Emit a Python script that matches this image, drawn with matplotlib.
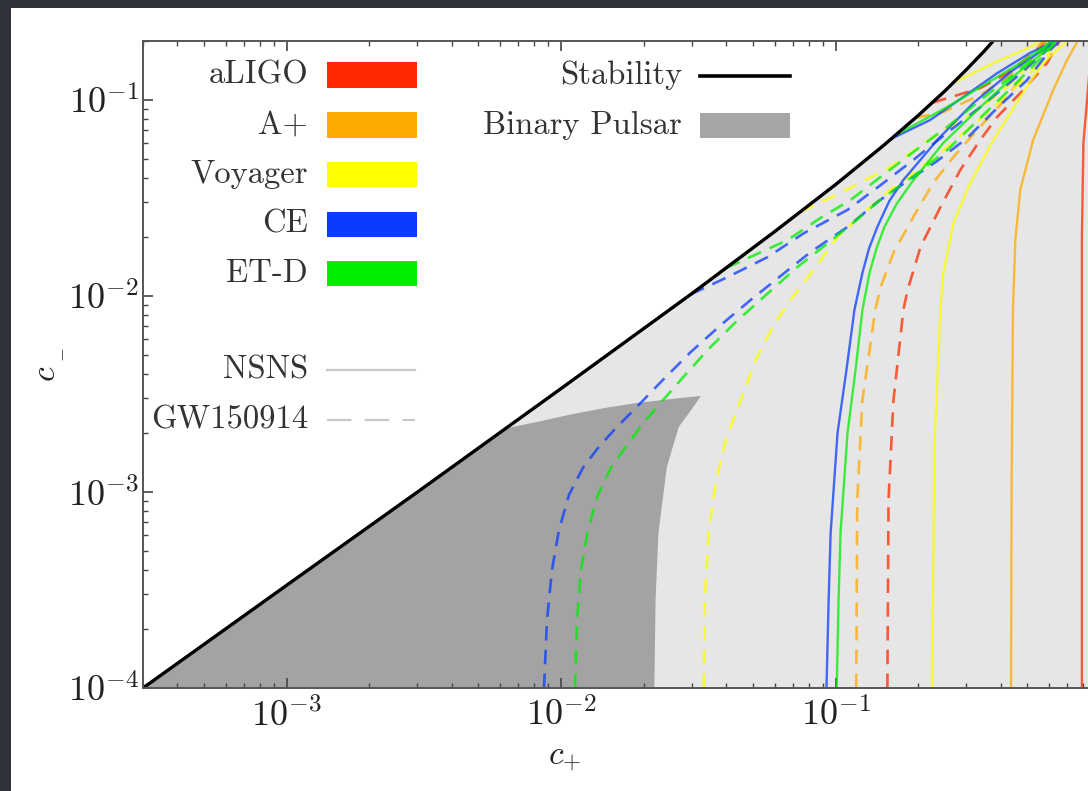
import matplotlib
matplotlib.use("Agg")
import matplotlib.pyplot as plt
from matplotlib.patches import Rectangle
from matplotlib.lines import Line2D
from matplotlib.ticker import FixedLocator, LogLocator, NullFormatter

plt.rcParams['mathtext.fontset'] = 'cm'
plt.rcParams['font.family'] = ['cmr10', 'DejaVu Serif']

# ---- data (c+, c-) ----
stab_cp = [3.0e-4, 1e-3, 3e-3, 1e-2, 3e-2, 0.06, 0.1, 0.15, 0.2, 0.25, 0.3, 0.35, 0.375]
stab_cm = [1.0e-4, 3.34e-4, 1.0e-3, 3.37e-3, 0.0103, 0.0213, 0.037, 0.0588, 0.0833, 0.111, 0.143, 0.179, 0.2]

pulsar_cp = [3.0e-4, 1e-3, 3e-3, 6.3e-3, 8.46e-3, 0.01105, 0.01458, 0.01905, 0.0251, 0.0323, 0.0302,
             0.02686, 0.02429, 0.02264, 0.0221, 0.02188]
pulsar_cm = [1.0e-4, 3.34e-4, 1.0e-3, 2.11e-3, 2.30e-3, 2.50e-3, 2.69e-3, 2.85e-3, 2.98e-3, 3.09e-3, 2.69e-3,
             2.15e-3, 1.34e-3, 6.18e-4, 2.81e-4, 1.0e-4]

detectors = ['aLIGO', 'A+', 'Voyager', 'CE', 'ET-D']
det_colors = ['#ff2a00', '#ffaa00', '#ffff00', '#0a3cff', '#00ee00']

# NSNS (solid) curves: lower branch and upper branch
nsns_lo_cp = {
    'aLIGO': [0.79, 0.79, 0.80, 0.825, 0.86],
    'A+': [0.436, 0.438, 0.443, 0.452, 0.471, 0.525, 0.621, 0.698, 0.759],
    'Voyager': [0.225, 0.229, 0.241, 0.247, 0.269, 0.310, 0.376, 0.471, 0.570, 0.674, 0.70],
    'CE': [0.0927, 0.0944, 0.096, 0.1017, 0.1096, 0.1172, 0.1253, 0.1325, 0.142, 0.157, 0.1767, 0.235, 0.318,
           0.443, 0.590, 0.621],
    'ET-D': [0.101, 0.1026, 0.1043, 0.1106, 0.1183, 0.1253, 0.133, 0.141, 0.1507, 0.167, 0.189, 0.247, 0.337,
             0.459, 0.605, 0.631],
}
nsns_lo_cm = {
    'aLIGO': [1e-4, 0.02, 0.06, 0.1, 0.2],
    'A+': [1e-4, 1e-3, 8.49e-3, 0.0193, 0.0348, 0.0626, 0.1125, 0.160, 0.198],
    'Voyager': [1e-4, 1.64e-3, 8.49e-3, 0.0131, 0.0236, 0.0378, 0.0626, 0.1036, 0.1545, 0.191, 0.2],
    'CE': [1e-4, 2.81e-4, 6.18e-4, 2.0e-3, 4.19e-3, 8.49e-3, 0.0131, 0.0175, 0.0225, 0.0305, 0.0391, 0.0626,
           0.0966, 0.142, 0.186, 0.198],
    'ET-D': [1e-4, 2.81e-4, 6.18e-4, 2.0e-3, 4.19e-3, 8.49e-3, 0.0131, 0.0175, 0.0225, 0.0295, 0.0378, 0.0604,
             0.092, 0.137, 0.186, 0.198],
}
nsns_up_cp = {
    'Voyager': [0.268, 0.376, 0.512, 0.55],
    'CE': [0.160, 0.221, 0.292, 0.388, 0.512, 0.590, 0.62],
    'ET-D': [0.165, 0.255, 0.357, 0.471, 0.590, 0.62],
}
nsns_up_cm = {
    'Voyager': [0.122, 0.1545, 0.186, 0.2],
    'CE': [0.0635, 0.079, 0.1036, 0.137, 0.174, 0.191, 0.2],
    'ET-D': [0.066, 0.092, 0.122, 0.1545, 0.191, 0.2],
}

# GW150914 (dashed) curves
gw_lo_cp = {
    'aLIGO': [0.1545, 0.156, 0.1626, 0.1767, 0.183, 0.204, 0.241, 0.285, 0.337, 0.388, 0.483, 0.590, 0.655],
    'A+': [0.119, 0.120, 0.1253, 0.1396, 0.146, 0.1626, 0.192, 0.227, 0.269, 0.328, 0.398, 0.471, 0.556, 0.58],
    'Voyager': [0.0331, 0.0334, 0.0345, 0.0366, 0.0398, 0.0451, 0.0512, 0.0595, 0.0686, 0.0832, 0.1017,
                0.1264, 0.1585, 0.1986, 0.241, 0.302, 0.376, 0.471, 0.570, 0.631, 0.65],
    'CE': [8.67e-3, 8.89e-3, 9.27e-3, 9.83e-3, 0.01069, 0.01202, 0.01374, 0.01585, 0.01842, 0.0231, 0.0297,
           0.0382, 0.0491, 0.0631, 0.0811, 0.1105, 0.1421, 0.1827, 0.2349, 0.302, 0.388, 0.499, 0.605, 0.65],
    'ET-D': [0.01124, 0.01143, 0.01182, 0.01253, 0.01363, 0.0152, 0.01723, 0.0197, 0.0227, 0.0273, 0.0342,
             0.0433, 0.0557, 0.0727, 0.0919, 0.1134, 0.1457, 0.1921, 0.2554, 0.3367, 0.444, 0.58, 0.631],
}
gw_lo_cm = {
    'aLIGO': [1e-4, 9.1e-4, 2.94e-3, 8.49e-3, 0.0107, 0.0178, 0.0284, 0.044, 0.0626, 0.0819, 0.1125, 0.1545, 0.2],
    'A+': [1e-4, 9.1e-4, 2.94e-3, 8.49e-3, 0.0111, 0.0166, 0.0253, 0.0378, 0.0512, 0.0703, 0.0943, 0.1265, 0.191, 0.2],
    'Voyager': [1e-4, 2.81e-4, 6.18e-4, 1.11e-3, 1.84e-3, 2.94e-3, 4.71e-3, 7.11e-3, 9.55e-3, 0.0136, 0.020,
                0.0265, 0.0348, 0.044, 0.0537, 0.0703, 0.092, 0.122, 0.160, 0.191, 0.2],
    'CE': [1e-4, 2.22e-4, 4.0e-4, 6.4e-4, 9.66e-4, 1.33e-3, 1.70e-3, 2.12e-3, 2.62e-3, 3.64e-3, 5.18e-3,
           7.11e-3, 9.55e-3, 0.01265, 0.01675, 0.0225, 0.0302, 0.0386, 0.0489, 0.064, 0.091, 0.1265, 0.180, 0.198],
    'ET-D': [1e-4, 2.22e-4, 4.0e-4, 6.4e-4, 9.66e-4, 1.33e-3, 1.70e-3, 2.20e-3, 2.78e-3, 3.73e-3, 5.30e-3,
             7.36e-3, 0.0101, 0.01406, 0.0182, 0.0230, 0.0309, 0.0409, 0.0556, 0.081, 0.1178, 0.172, 0.198],
}
gw_up_cp = {
    'aLIGO': [0.225, 0.337, 0.422, 0.533, 0.58],
    'A+': [0.195, 0.247, 0.337, 0.433, 0.533, 0.57],
    'Voyager': [0.0747, 0.1043, 0.1585, 0.227, 0.310, 0.398, 0.512, 0.605, 0.63],
    'CE': [0.0297, 0.0405, 0.0566, 0.0766, 0.1106, 0.146, 0.192, 0.255, 0.337, 0.443, 0.590, 0.631],
    'ET-D': [0.040, 0.0669, 0.0881, 0.1135, 0.146, 0.192, 0.255, 0.337, 0.443, 0.58, 0.60],
}
gw_up_cm = {
    'aLIGO': [0.0968, 0.115, 0.137, 0.176, 0.198],
    'A+': [0.081, 0.0868, 0.106, 0.134, 0.179, 0.2],
    'Voyager': [0.0269, 0.0336, 0.0455, 0.0647, 0.0838, 0.1087, 0.151, 0.191, 0.2],
    'CE': [0.0102, 0.0125, 0.0158, 0.0209, 0.0275, 0.0368, 0.0494, 0.068, 0.092, 0.1265, 0.180, 0.198],
    'ET-D': [0.0139, 0.0193, 0.025, 0.0309, 0.0405, 0.0543, 0.0728, 0.1, 0.134, 0.186, 0.2],
}

xtick_vals = [1e-3, 1e-2, 1e-1, 1.0]
xtick_labels = [r'$10^{-3}$', r'$10^{-2}$', r'$10^{-1}$', '']
ytick_vals = [1e-4, 1e-3, 1e-2, 1e-1]
ytick_labels = [r'$10^{-4}$', r'$10^{-3}$', r'$10^{-2}$', r'$10^{-1}$']

# ---- figure ----
W, H = 1088, 791
fig = plt.figure(figsize=(W / 100, H / 100), dpi=100)
fig.patch.set_facecolor('#30343a')
fig.patches.append(Rectangle((11 / W, 0), 1, 1 - 8 / H, transform=fig.transFigure,
                             facecolor='white', edgecolor='none', zorder=-10))

def fx(x):
    return x / W

def fy(y):
    return 1 - y / H

ax = fig.add_axes([fx(143), fy(688), (1110 - 143) / W, (688 - 41) / H])
ax.set_xscale('log')
ax.set_yscale('log')
ax.set_xlim(3.0e-4, 1.0)
ax.set_ylim(1e-4, 0.2)
ax.set_facecolor('white')

# allowed region (light) and binary pulsar region (dark)
ax.fill_between(stab_cp + [1.0], 1e-5, stab_cm + [0.2], color='#e6e6e6', lw=0, zorder=0)
ax.fill(pulsar_cp, pulsar_cm, color='#a3a3a3', lw=0, zorder=1)

line_alpha = 0.75
for name, col in zip(detectors, det_colors):
    ax.plot(nsns_lo_cp[name], nsns_lo_cm[name], color=col, lw=1.7, alpha=line_alpha, zorder=2)
    if name in nsns_up_cp:
        ax.plot(nsns_up_cp[name], nsns_up_cm[name], color=col, lw=1.7, alpha=line_alpha, zorder=2)
    ax.plot(gw_lo_cp[name], gw_lo_cm[name], color=col, lw=1.9, alpha=line_alpha,
            dashes=(5.5, 3.5), zorder=2)
    ax.plot(gw_up_cp[name], gw_up_cm[name], color=col, lw=1.9, alpha=line_alpha,
            dashes=(5.5, 3.5), zorder=2)

ax.plot(stab_cp, stab_cm, color='black', lw=2.4, zorder=4, solid_capstyle='butt')

# axes styling
for sp in ax.spines.values():
    sp.set_linewidth(1.4)
    sp.set_color('#555555')
    sp.set_zorder(5)
ax.xaxis.set_major_locator(FixedLocator(xtick_vals))
ax.xaxis.set_ticklabels(xtick_labels)
ax.yaxis.set_major_locator(FixedLocator(ytick_vals))
ax.yaxis.set_ticklabels(ytick_labels)
ax.xaxis.set_minor_locator(LogLocator(base=10, subs=range(2, 10), numticks=20))
ax.yaxis.set_minor_locator(LogLocator(base=10, subs=range(2, 10), numticks=20))
ax.xaxis.set_minor_formatter(NullFormatter())
ax.yaxis.set_minor_formatter(NullFormatter())
ax.tick_params(which='both', direction='in', top=True, right=True, color='#444444')
ax.tick_params(which='major', length=7, width=1.2, labelsize=26, labelcolor='#222222')
ax.tick_params(which='minor', length=3.5, width=1.0)
ax.tick_params(axis='x', which='major', pad=7)
ax.tick_params(axis='y', which='major', pad=3)

ax.set_xlabel(r'$c_{+}$', fontsize=24, color='#222222')
ax.xaxis.set_label_coords((565 - 143) / 967, (688 - 744) / 647)

# y label c_- : letter plus a small rotated minus as subscript
fig.text(fx(46), fy(374), r'$c$', rotation=90, fontsize=24, color='#222222',
         ha='center', va='center')
fig.text(fx(61), fy(355), r'$-$', rotation=90, fontsize=13, color='#222222',
         ha='center', va='center')

# ---- hand-made legends ----
txt_kw = dict(fontsize=23.5, color='#333333', ha='right', va='center', transform=fig.transFigure)
rows_y = [75, 125, 174, 224, 273]
for name, col, yy in zip(detectors, det_colors, rows_y):
    fig.text(fx(308), fy(yy), name, **txt_kw)
    fig.patches.append(Rectangle((fx(327), fy(yy + 12.5)), 90 / W, 25 / H,
                                 transform=fig.transFigure, facecolor=col, edgecolor='none'))

fig.text(fx(308), fy(370), 'NSNS', **txt_kw)
fig.lines.append(Line2D([fx(327), fx(415)], [fy(370), fy(370)], transform=fig.transFigure,
                        color='#c8c8c8', lw=1.6))
fig.text(fx(308), fy(420), 'GW150914', **txt_kw)
fig.lines.append(Line2D([fx(327), fx(415)], [fy(420), fy(420)], transform=fig.transFigure,
                        color='#c8c8c8', lw=1.6, dashes=(11, 6)))

fig.text(fx(682), fy(75), 'Stability', **txt_kw)
fig.lines.append(Line2D([fx(700), fx(790)], [fy(76), fy(76)], transform=fig.transFigure,
                        color='black', lw=2.6))
fig.text(fx(682), fy(125), 'Binary Pulsar', **txt_kw)
fig.patches.append(Rectangle((fx(700), fy(138)), 90 / W, 25 / H, transform=fig.transFigure,
                             facecolor='#a6a6a6', edgecolor='none'))

fig.savefig('out.png', dpi=100, facecolor=fig.get_facecolor())
